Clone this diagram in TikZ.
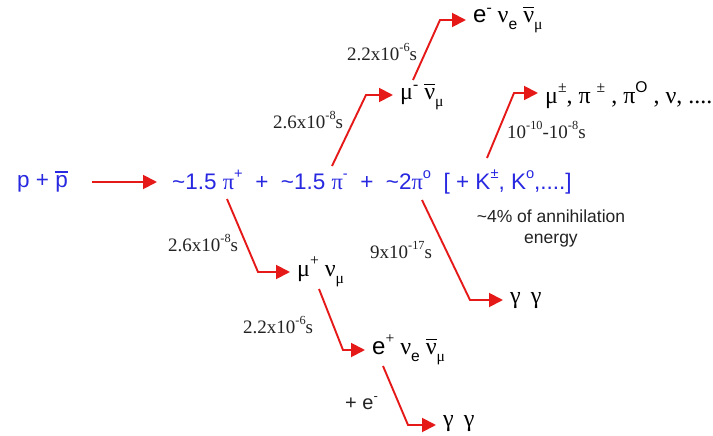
\documentclass[tikz,border=0pt]{standalone}
\usepackage{fontspec}
\setmainfont{Liberation Serif}
\newfontfamily\sansf{Liberation Sans}
\usetikzlibrary{arrows.meta}
\definecolor{pblue}{RGB}{40,40,225}
\definecolor{pred}{RGB}{230,25,25}
\definecolor{ptext}{RGB}{35,35,35}
\newcommand\up[1]{\raisebox{0.45em}{\scalebox{0.65}{#1}}}
\newcommand\dn[1]{\raisebox{-0.28em}{\scalebox{0.65}{#1}}}
\newcommand\ovl[1]{\leavevmode\setbox0\hbox{#1}\rlap{\raisebox{\dimexpr\ht0+0.14em\relax}{\rule{\wd0}{0.055em}}}\box0}
\begin{document}
\begin{tikzpicture}[x=1pt,y=-1pt,
  txt/.style={inner sep=0pt,anchor=west},
  main/.style={txt,text=pblue,font=\sansf\fontsize{22.5}{24}\selectfont},
  prod/.style={txt,text=black,font=\fontsize{24}{26}\selectfont},
  tlab/.style={txt,text=ptext,font=\fontsize{19}{21}\selectfont},
  slab/.style={txt,text=ptext,font=\sansf\fontsize{20}{22}\selectfont},
  arr/.style={draw=pred,line width=1.9pt,-{Triangle[length=14pt,width=14pt]},shorten >=7pt,line join=miter}]
\useasboundingbox (0,0) rectangle (713,436);
\fill[white] (0,0) rectangle (713,436);
% main line
\node[main] (pp) at (17,182) {p + \ovl{p}};
\node[main] (mainl) at (172,182) {\textasciitilde1.5 {\rmfamily π}\up{+} \ + \ \textasciitilde1.5 {\rmfamily π}\up{-} \ + \ \textasciitilde2{\rmfamily π}\up{o} \ [ + K\up{±}, K\up{o},....]};
% products
\node[prod] (ebot) at (473,20) {{\sansf e}\up{-} ν\dn{{\sansf e}} \ovl{ν}\dn{μ}};
\node[prod] (mum) at (400,97) {μ\up{-} \ovl{ν}\dn{μ}};
\node[prod] (kprod) at (545,95) {μ\up{±}, π \up{±} , π\up{{\sansf O}} , ν, ....};
\node[prod] (mup) at (297,272) {μ\up{+} ν\dn{μ}};
\node[prod] (epl) at (372,350) {{\sansf e}\up{+} ν\dn{{\sansf e}} \ovl{ν}\dn{μ}};
\node[prod] (gg1) at (443,424) {γ \,γ};
\node[prod] (gg2) at (510,301) {γ \,γ};
% labels
\node[tlab] (l1) at (168,243) {2.6x10\up{-8}s};
\node[tlab] (l2) at (243,325) {2.2x10\up{-6}s};
\node[slab] (l3) at (345,403) {+ e\up{-}};
\node[tlab] (l4) at (370,250) {9x10\up{-17}s};
\node[tlab] (l5) at (273,120) {2.6x10\up{-8}s};
\node[tlab] (l6) at (347,52) {2.2x10\up{-6}s};
\node[tlab] (l7) at (507,130) {10\up{-10}-10\up{-8}s};
\node[txt,anchor=center,align=center,text=ptext,font=\sansf\fontsize{17.5}{21}\selectfont] (l8) at (551,228) {\textasciitilde4\% of annihilation\\energy};
% connectors
\coordinate (s0) at (92,182);
\coordinate (t0) at (157,182);
\draw[arr,shorten >=0pt] (s0) -- (t0);
\coordinate (s1) at (227,199);
\coordinate (c1) at (258,272);
\draw[arr] (s1) -- (c1) -- (mup.west |- c1);
\coordinate (s2) at (319,289);
\coordinate (c2) at (343,350);
\draw[arr] (s2) -- (c2) -- (epl.west |- c2);
\coordinate (s3) at (383,366);
\coordinate (c3) at (408,425);
\draw[arr] (s3) -- (c3) -- (gg1.west |- c3);
\coordinate (s4) at (422,200);
\coordinate (c4) at (470,300);
\draw[arr] (s4) -- (c4) -- (gg2.west |- c4);
\coordinate (s5) at (332,166);
\coordinate (c5) at (366,95);
\draw[arr] (s5) -- (c5) -- (mum.west |- c5);
\coordinate (s6) at (413,80);
\coordinate (c6) at (440,20);
\draw[arr] (s6) -- (c6) -- (ebot.west |- c6);
\coordinate (s7) at (487,158);
\coordinate (c7) at (514,93);
\draw[arr] (s7) -- (c7) -- (kprod.west |- c7);
\end{tikzpicture}
\end{document}
